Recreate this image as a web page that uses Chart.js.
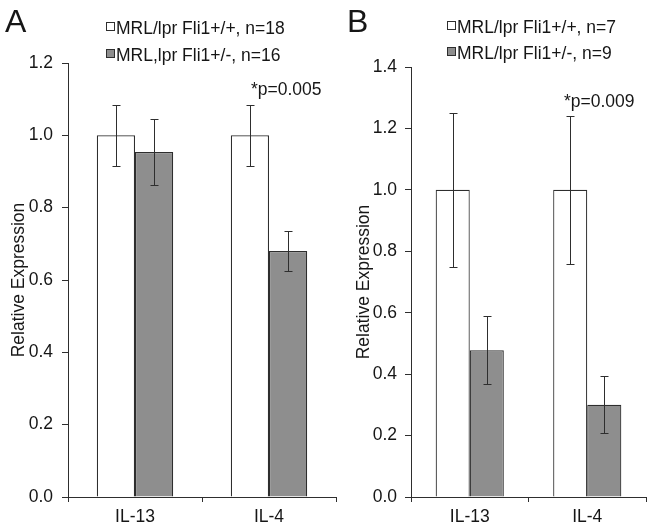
<!DOCTYPE html>
<html>
<head>
<meta charset="utf-8">
<script src="https://cdn.jsdelivr.net/npm/chart.js@4.4.1/dist/chart.umd.min.js"></script>
<style>
    body { margin: 0; background: #fff; }
    #wrap { position: relative; width: 653px; height: 531px; }
    #chartA { position: absolute; left: 0; top: 0; }
    #chartB { position: absolute; left: 340px; top: 0; }
</style>
</head>
<body>
<div id="wrap">
    <canvas id="chartA" width="340" height="531"></canvas>
    <canvas id="chartB" width="313" height="531"></canvas>
</div>
<script>
let categories = ['IL-13', 'IL-4'];

// panel A
let labelsA = ['MRL/lpr Fli1+/+, n=18', 'MRL,lpr Fli1+/-, n=16'];
let wtA = [1.0, 1.0];
let wtErrA = [0.084, 0.084];
let hetA = [0.954, 0.680];
let hetErrA = [0.090, 0.055];
let yTicksA = [0, 0.2, 0.4, 0.6, 0.8, 1.0, 1.2];

// panel B
let labelsB = ['MRL/lpr Fli1+/+, n=7', 'MRL/lpr Fli1+/-, n=9'];
let wtB = [1.0, 1.0];
let wtErrB = [0.25, 0.24];
let hetB = [0.478, 0.30];
let hetErrB = [0.11, 0.093];
let yTicksB = [0, 0.2, 0.4, 0.6, 0.8, 1.0, 1.2, 1.4];

const FONT = "'Liberation Sans', Arial, sans-serif";
const SIZE = 17.5;
const INK = '#161616';
const LINE = '#2e2e2e';
const GREY = '#8e8e8e';

const errorBars = {
    id: 'errorBars',
    afterDatasetsDraw(chart, args, opts) {
        const ctx = chart.ctx;
        const y = chart.scales.y;
        ctx.save();
        ctx.strokeStyle = LINE;
        ctx.lineWidth = 1;
        chart.data.datasets.forEach((ds, i) => {
            chart.getDatasetMeta(i).data.forEach((bar, j) => {
                const v = ds.data[j];
                const e = opts.errors[i][j];
                const x = Math.round(bar.x) + 0.5;
                const top = Math.round(y.getPixelForValue(v + e)) + 0.5;
                const bot = Math.round(y.getPixelForValue(v - e)) + 0.5;
                ctx.beginPath();
                ctx.moveTo(x, top); ctx.lineTo(x, bot);
                ctx.moveTo(x - 4, top); ctx.lineTo(x + 4, top);
                ctx.moveTo(x - 4, bot); ctx.lineTo(x + 4, bot);
                ctx.stroke();
            });
        });
        ctx.restore();
    }
};

// panel letter, legend and p value
const panelExtras = {
    id: 'panelExtras',
    afterDraw(chart, args, opts) {
        const ctx = chart.ctx;
        ctx.save();
        ctx.fillStyle = INK;
        ctx.textBaseline = 'alphabetic';
        ctx.font = '32px ' + FONT;
        ctx.fillText(opts.letter, opts.letterX, 32);

        ctx.font = SIZE + 'px ' + FONT;
        chart.data.datasets.forEach((ds, i) => {
            const base = opts.legendY[i];
            ctx.fillStyle = ds.backgroundColor;
            ctx.fillRect(opts.legendX + 0.5, base - 11.5, 8, 8);
            ctx.strokeStyle = LINE;
            ctx.lineWidth = 1;
            ctx.strokeRect(opts.legendX + 0.5, base - 11.5, 8, 8);
            ctx.fillStyle = INK;
            ctx.fillText(ds.label, opts.legendX + 10, base);
        });

        ctx.fillText(opts.pText, opts.pX, opts.pY);
        ctx.restore();
    }
};

function makeChart(id, labels, wt, wtErr, het, hetErr, yTicks, cfg) {
    return new Chart(document.getElementById(id), {
        type: 'bar',
        data: {
            labels: categories,
            datasets: [
                {
                    label: labels[0],
                    data: wt,
                    backgroundColor: '#ffffff',
                    borderColor: LINE,
                    borderWidth: 1.2
                },
                {
                    label: labels[1],
                    data: het,
                    backgroundColor: GREY,
                    borderColor: LINE,
                    borderWidth: 1.2
                }
            ]
        },
        options: {
            responsive: false,
            animation: false,
            layout: {
                padding: { top: cfg.top, right: cfg.right, bottom: 0, left: 0 }
            },
            datasets: {
                bar: { categoryPercentage: cfg.catPct, barPercentage: 1 }
            },
            plugins: {
                legend: { display: false },
                tooltip: { enabled: false },
                errorBars: { errors: [wtErr, hetErr] },
                panelExtras: cfg.extras
            },
            scales: {
                x: {
                    grid: {
                        offset: true,
                        drawOnChartArea: false,
                        tickLength: 5,
                        color: LINE
                    },
                    border: { color: LINE, width: 1 },
                    ticks: {
                        color: INK,
                        padding: 5,
                        font: { family: FONT, size: SIZE }
                    },
                    afterFit: (scale) => { scale.height = 34; }
                },
                y: {
                    min: 0,
                    max: yTicks[yTicks.length - 1],
                    afterBuildTicks: (scale) => {
                        scale.ticks = yTicks.map(v => ({ value: v }));
                    },
                    grid: {
                        drawOnChartArea: false,
                        tickLength: 6,
                        color: LINE
                    },
                    border: { color: LINE, width: 1 },
                    ticks: {
                        color: INK,
                        padding: cfg.tickPad,
                        font: { family: FONT, size: SIZE },
                        callback: (v) => Number(v).toFixed(1)
                    },
                    title: {
                        display: true,
                        text: 'Relative Expression',
                        color: INK,
                        font: { family: FONT, size: SIZE },
                        padding: { top: cfg.titlePad, bottom: 0 }
                    },
                    afterFit: (scale) => { scale.width = cfg.axisX; }
                }
            }
        },
        plugins: [errorBars, panelExtras]
    });
}

document.addEventListener('DOMContentLoaded', function () {
    makeChart('chartA', labelsA, wtA, wtErrA, hetA, hetErrA, yTicksA, {
        top: 63, right: 4, catPct: 0.57, tickPad: 9, titlePad: 9, axisX: 68,
        extras: { letter: 'A', letterX: 5, legendX: 106, legendY: [34, 61], pText: '*p=0.005', pX: 251, pY: 95 }
    });
    makeChart('chartB', labelsB, wtB, wtErrB, hetB, hetErrB, yTicksB, {
        top: 67, right: 7, catPct: 0.58, tickPad: 8, titlePad: 14, axisX: 71,
        extras: { letter: 'B', letterX: 7, legendX: 107, legendY: [33, 59], pText: '*p=0.009', pX: 224, pY: 107 }
    });
});
</script>
</body>
</html>
